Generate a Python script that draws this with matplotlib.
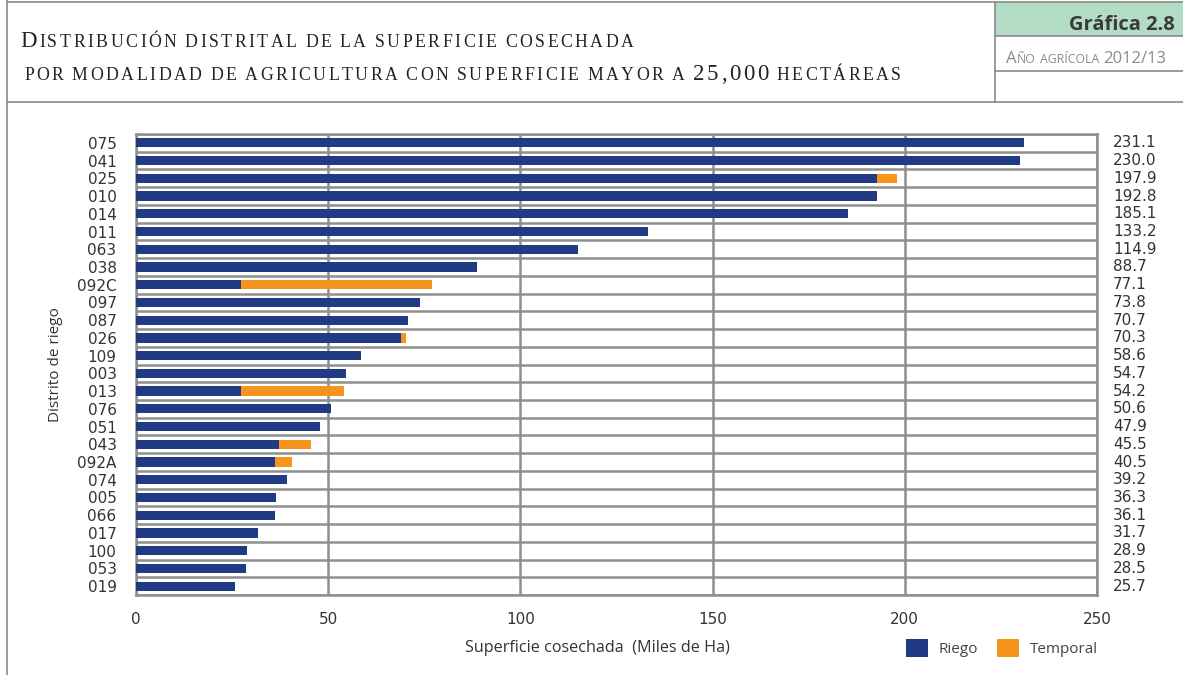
import matplotlib
matplotlib.use("Agg")
import matplotlib.pyplot as plt
from matplotlib.patches import Rectangle
from matplotlib.lines import Line2D
from matplotlib.transforms import blended_transform_factory
import numpy as np

# ---------------- data ----------------
distritos = ["075", "041", "025", "010", "014", "011", "063", "038", "092C", "097",
             "087", "026", "109", "003", "013", "076", "051", "043", "092A", "074",
             "005", "066", "017", "100", "053", "019"]
totales = [231.1, 230.0, 197.9, 192.8, 185.1, 133.2, 114.9, 88.7, 77.1, 73.8,
           70.7, 70.3, 58.6, 54.7, 54.2, 50.6, 47.9, 45.5, 40.5, 39.2,
           36.3, 36.1, 31.7, 28.9, 28.5, 25.7]
temporal = [0.0, 0.0, 5.1, 0.0, 0.0, 0.0, 0.0, 0.0, 49.8, 0.0,
            0.0, 1.4, 0.0, 0.0, 26.9, 0.0, 0.0, 8.3, 4.3, 0.0,
            0.0, 0.0, 0.0, 0.0, 0.0, 0.0]
riego = [round(t - p, 1) for t, p in zip(totales, temporal)]
x_ticks = [0, 50, 100, 150, 200, 250]

W, H = 1183, 675
BLUE = "#213a84"
ORANGE = "#f7941d"
GRID = "#8f8f8f"
TXT = "#333333"

fig = plt.figure(figsize=(W / 100, H / 100), dpi=100)
fig.patch.set_facecolor("white")


def fx(x):
    return x / W


def fy(y):
    return 1 - y / H


# ---------------- frame / header ----------------
frame_col = "#8a8a8a"
fig.add_artist(Line2D([fx(7), fx(7)], [fy(0), fy(675)], color=frame_col, lw=1.2))
fig.add_artist(Line2D([fx(7), fx(1183)], [fy(2), fy(2)], color=frame_col, lw=1.2))
fig.add_artist(Line2D([fx(7), fx(1183)], [fy(102), fy(102)], color=frame_col, lw=1.2))
fig.add_artist(Rectangle((fx(995), fy(36)), fx(1183) - fx(995), fy(2) - fy(36),
                         facecolor="#b3dcc4", edgecolor="none"))
fig.add_artist(Line2D([fx(995), fx(995)], [fy(2), fy(102)], color=frame_col, lw=1.2))
fig.add_artist(Line2D([fx(995), fx(1183)], [fy(36), fy(36)], color=frame_col, lw=1.2))
fig.add_artist(Line2D([fx(995), fx(1183)], [fy(71), fy(71)], color=frame_col, lw=1.2))

fig.text(fx(1175), fy(30), "Gráfica 2.8", ha="right", va="baseline", fontsize=14.5,
         fontweight="bold", family="Open Sans", color="#3a3a3a")

renderer = fig.canvas.get_renderer()


def small_caps(text, x0, y0, big, small, color, family="Open Sans", space=None,
               tracking=0.0, per_char=False):
    if space is None:
        space = 0.26 * big * 100 / 72
    x = x0
    for word in text.split(" "):
        runs = []
        for ch in word:
            is_small = ch.islower()
            c = ch.upper() if is_small else ch
            size = small if is_small else big
            if not per_char and runs and runs[-1][1] == size:
                runs[-1][0] += c
            else:
                runs.append([c, size])
        for s, size in runs:
            t = fig.text(fx(x), fy(y0), s, fontsize=size, ha="left", va="baseline",
                         family=family, color=color)
            bb = t.get_window_extent(renderer)
            x += bb.width + tracking
        x += space
    return x


small_caps("Distribución distrital de la superficie cosechada", 20, 47, 16.5, 12.8,
           "#222222", family="Liberation Serif", tracking=2.5, per_char=True)
small_caps("por modalidad de agricultura con superficie mayor a 25,000 hectáreas",
           24, 80, 16.5, 12.8, "#222222", family="Liberation Serif", tracking=2.5,
           per_char=True)
small_caps("Año agrícola 2012/13", 1006, 63, 12, 8.8, "#8a8a8a")

# ---------------- chart ----------------
ax = fig.add_axes([fx(136), fy(595), fx(1097) - fx(136), fy(134) - fy(595)])
y = np.arange(len(distritos))
ax.barh(y, riego, height=0.52, color=BLUE, label="Riego", zorder=3)
ax.barh(y, temporal, left=riego, height=0.52, color=ORANGE, label="Temporal", zorder=3)

ax.set_xlim(0, 250)
ax.set_ylim(len(distritos) - 0.5, -0.5)
ax.set_xticks(x_ticks)
ax.set_xticklabels([str(v) for v in x_ticks])
ax.set_yticks(y)
ax.set_yticklabels(distritos)
ax.set_yticks(np.arange(len(distritos) + 1) - 0.5, minor=True)
ax.tick_params(axis="both", which="both", length=0, labelsize=11, colors=TXT)
ax.tick_params(axis="x", pad=12)
ax.tick_params(axis="y", pad=14)
ax.grid(axis="x", which="major", color=GRID, lw=1.8, zorder=1)
ax.grid(axis="y", which="minor", color=GRID, lw=1.8, zorder=1)
ax.grid(axis="y", which="major", visible=False)
for sp in ax.spines.values():
    sp.set_color(GRID)
    sp.set_linewidth(1.8)

for lab in ax.get_xticklabels() + ax.get_yticklabels():
    lab.set_family("DejaVu Sans")

trans = blended_transform_factory(ax.transAxes, ax.transData)
for yi, tot in zip(y, totales):
    ax.text(1.0165, yi, f"{tot:.1f}", transform=trans, ha="left", va="center",
            fontsize=11, color=TXT, family="DejaVu Sans")

ax.set_ylabel("Distrito de riego", fontsize=11, family="Open Sans", color=TXT, labelpad=10)
fig.text(fx(597), fy(648), "Superficie cosechada  (Miles de Ha)", ha="center", va="center",
         fontsize=11.6, family="Open Sans", color=TXT)

handles, labels = ax.get_legend_handles_labels()
leg = fig.legend(handles, labels, loc="center left", bbox_to_anchor=(fx(906), fy(648)),
                 ncol=2, frameon=False, handlelength=1.45, handleheight=1.45,
                 handletextpad=0.7, columnspacing=1.2, borderpad=0, borderaxespad=0,
                 prop={"family": "Open Sans", "size": 11})
for t in leg.get_texts():
    t.set_color("#444444")

fig.savefig("out.png", dpi=100)
